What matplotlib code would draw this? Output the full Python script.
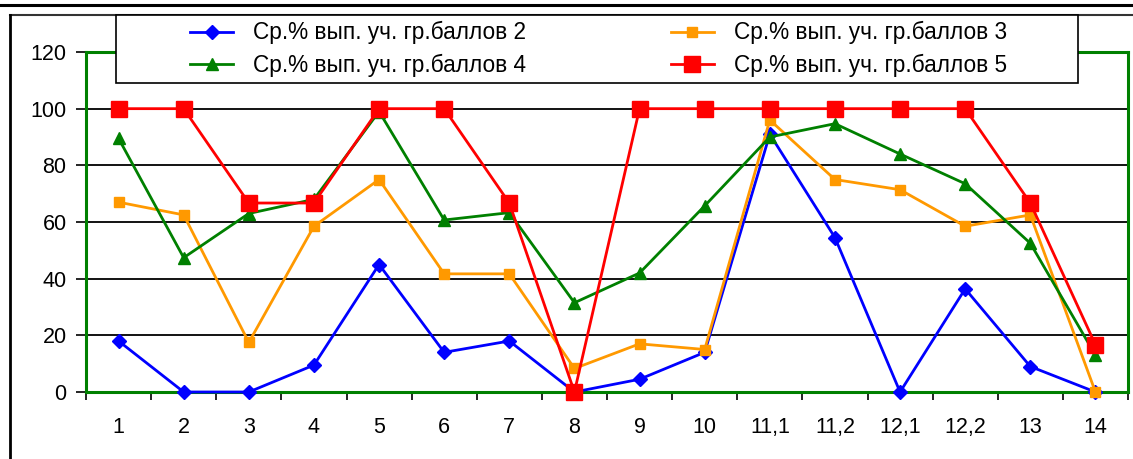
import matplotlib
matplotlib.use("Agg")
import matplotlib.pyplot as plt
from matplotlib.lines import Line2D
from matplotlib.patches import Rectangle
import numpy as np

plt.rcParams['font.family'] = ['Liberation Sans', 'DejaVu Sans']

categories = ["1", "2", "3", "4", "5", "6", "7", "8", "9", "10",
              "11,1", "11,2", "12,1", "12,2", "13", "14"]
s2 = [18, 0, 0, 9.5, 45, 14, 18, 0, 4.5, 14, 91, 54.5, 0, 36.4, 9, 0]
s3 = [67, 62.5, 17.5, 58.5, 75, 41.7, 41.7, 8.3, 17, 15, 96, 75, 71.4, 58.5, 62.5, 0]
s4 = [89.5, 47.4, 63, 68, 99, 60.7, 63.3, 31.5, 42, 65.7, 90, 94.7, 84, 73.5, 52.5, 13]
s5 = [100, 100, 66.7, 66.7, 100, 100, 66.7, 0, 100, 100, 100, 100, 100, 100, 66.7, 16.7]
labels = ["Ср.% вып. уч. гр.баллов 2", "Ср.% вып. уч. гр.баллов 3",
          "Ср.% вып. уч. гр.баллов 4", "Ср.% вып. уч. гр.баллов 5"]
yticks = [0, 20, 40, 60, 80, 100, 120]

W, H = 1133, 459
FS = 15.5
FSL = 16.3
fig = plt.figure(figsize=(W / 100, H / 100), dpi=100)
ax = fig.add_axes([86 / W, 1 - 392 / H, 1042 / W, 340 / H])

x = np.arange(len(categories))
lw = 2.0
l2, = ax.plot(x, s2, color='#0000FF', lw=lw, marker='D', ms=7, label=labels[0], clip_on=False, zorder=3)
l3, = ax.plot(x, s3, color='#FF9900', lw=lw, marker='s', ms=7, label=labels[1], clip_on=False, zorder=4)
l4, = ax.plot(x, s4, color='#008000', lw=lw, marker='^', ms=8.5, label=labels[2], clip_on=False, zorder=5)
l5, = ax.plot(x, s5, color='#FF0000', lw=lw, marker='s', ms=11, label=labels[3], clip_on=False, zorder=6)

ax.set_xlim(-0.5, len(categories) - 0.5)
ax.set_ylim(0, 120)
ax.set_yticks(yticks)
ax.set_yticklabels([str(v) for v in yticks], fontsize=FS)
for v in yticks[1:-1]:
    ax.axhline(v, color='black', lw=1.3, zorder=1)

ax.set_xticks(np.arange(-0.5, len(categories), 1))
ax.set_xticklabels([])
ax.set_xticks(x, minor=True)
ax.set_xticklabels(categories, minor=True, fontsize=FS)
ax.tick_params(axis='x', which='major', direction='out', length=6, width=1.2, color='black')
ax.tick_params(axis='x', which='minor', length=0, pad=18)
ax.tick_params(axis='y', direction='out', length=7, width=1.2, color='black', pad=7)

for sp in ax.spines.values():
    sp.set_color('#008000')
    sp.set_linewidth(2.2)

# legend box
fig.add_artist(Rectangle((116 / W, 1 - 83 / H), (1078 - 116) / W, 68 / H,
                         transform=fig.transFigure, facecolor='white',
                         edgecolor='black', lw=1.2, zorder=9))
leg = fig.legend(handles=[l2, l4, l3, l5], ncol=2, loc='center left',
                 bbox_to_anchor=(190 / W, 1 - 49 / H),
                 fontsize=FSL, frameon=False, handlelength=1.9, borderaxespad=0,
                 labelspacing=0.4, borderpad=0, handletextpad=0.88,
                 columnspacing=6.4)
leg.set_zorder(10)

# figure decorations: top rule and chart-area border
fig.add_artist(Line2D([0, 1], [1 - 5 / H, 1 - 5 / H], transform=fig.transFigure, color='black', lw=2.2))
fig.add_artist(Line2D([10 / W, 1], [1 - 15 / H, 1 - 15 / H], transform=fig.transFigure, color='#333333', lw=1.5))
fig.add_artist(Line2D([10 / W, 10 / W], [0, 1 - 15 / H], transform=fig.transFigure, color='black', lw=2.0))

fig.savefig("out.png", dpi=100)
